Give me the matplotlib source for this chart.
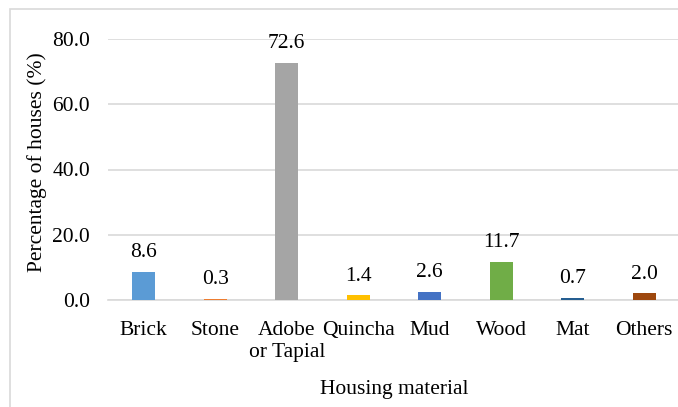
import matplotlib
matplotlib.use("Agg")
import matplotlib.pyplot as plt
from matplotlib.patches import Rectangle

categories = ["Brick", "Stone", "Adobe\nor Tapial", "Quincha", "Mud", "Wood", "Mat", "Others"]
values = [8.6, 0.3, 72.6, 1.4, 2.6, 11.7, 0.7, 2.0]
colors = ["#5B9BD5", "#ED7D31", "#A5A5A5", "#FFC000", "#4472C4", "#70AD47", "#255E91", "#9E480E"]
y_ticks = [0, 20, 40, 60, 80]

plt.rcParams["font.family"] = ["Liberation Serif", "DejaVu Serif"]
FS = 15.5

W, H = 678, 407
fig = plt.figure(figsize=(W / 100, H / 100), dpi=100)

# chart area frame
fig.patches.append(Rectangle((10 / W, -0.1), 1.2, (H - 9) / H + 0.1, transform=fig.transFigure,
                             fill=False, edgecolor="#d9d9d9", linewidth=1.2))

ax = fig.add_axes([108 / W, (H - 300) / H, 572 / W, (300 - 39) / H])
x = list(range(len(categories)))
ax.bar(x, values, width=0.32, color=colors, zorder=3)
ax.set_xlim(-0.5, len(categories) - 0.5)
ax.set_ylim(0, 80)
ax.set_yticks(y_ticks)
ax.set_yticklabels([f"{v:.1f}" for v in y_ticks])
ax.set_xticks(x)
ax.set_xticklabels(categories, linespacing=1.2)
ax.tick_params(axis="both", length=0, labelsize=FS, colors="#000000")
ax.tick_params(axis="y", pad=13)
ax.tick_params(axis="x", pad=15)
ax.grid(axis="y", color="#d9d9d9", linewidth=1.2, zorder=0)
for s in ["top", "right", "left"]:
    ax.spines[s].set_visible(False)
ax.spines["bottom"].set_color("#d9d9d9")
ax.spines["bottom"].set_linewidth(1.2)

for xi, v in zip(x, values):
    ax.annotate(f"{v:.1f}", (xi, v), xytext=(0, 7), textcoords="offset points",
                ha="center", va="bottom", fontsize=FS)

ax.set_ylabel("Percentage of houses (%)", fontsize=FS)
ax.yaxis.set_label_coords(-0.106, 0.53)
ax.set_xlabel("Housing material", fontsize=FS, labelpad=13)

fig.savefig("out.png", dpi=100)
